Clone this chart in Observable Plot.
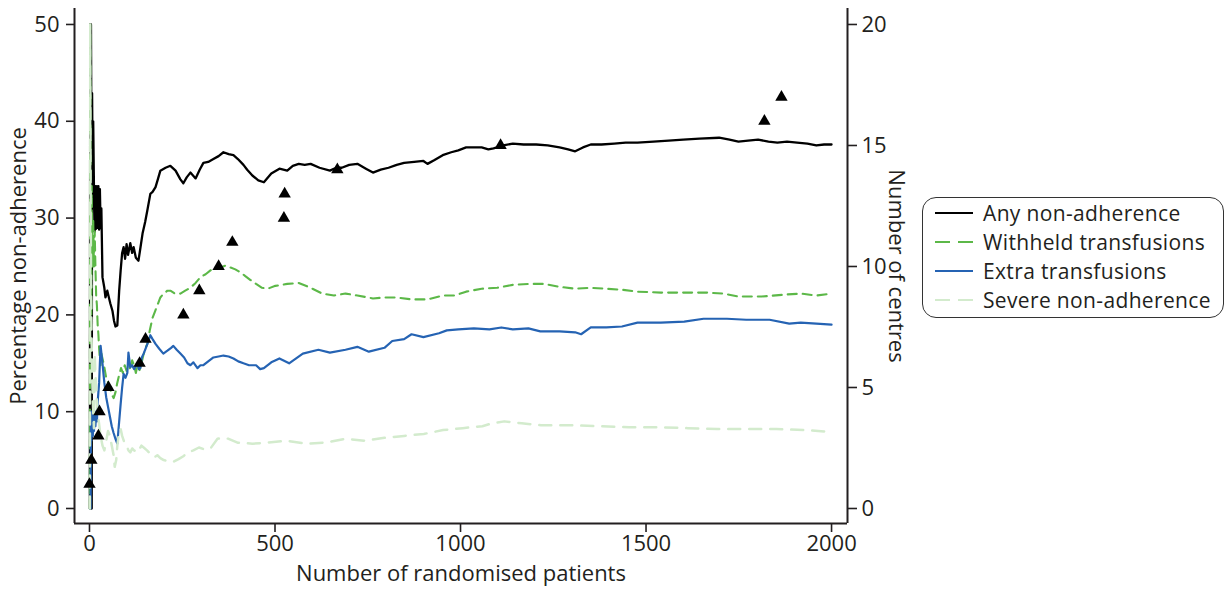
<!DOCTYPE html>
<html>
<head>
<meta charset="utf-8">
<script src="https://cdn.jsdelivr.net/npm/d3@7"></script>
<script src="https://cdn.jsdelivr.net/npm/@observablehq/plot@0.6"></script>
<style>
  html, body { margin: 0; padding: 0; background: #fff; }
  #wrap { position: relative; width: 1226px; height: 590px; font-family: "Open Sans", "Noto Sans", sans-serif; color: #231f20; }
  #legend { position: absolute; left: 922px; top: 197px; width: 302px; height: 121px; border: 1.6px solid #333; border-radius: 14px; box-sizing: border-box; }
  .row { position: absolute; left: 0; height: 22px; line-height: 22px; display: flex; align-items: center; font-size: 21px; letter-spacing: 0.35px; white-space: nowrap; }
  .row svg { margin-left: 12px; margin-right: 10px; flex: none; }
  .row span { display: block; height: 22px; line-height: 22px; overflow: visible; }
</style>
</head>
<body>
<div id="wrap"></div>
<script>
// ---- data ----
const xTicks = [0, 500, 1000, 1500, 2000];
const yTicks = [0, 10, 20, 30, 40, 50];
const centreTicks = [0, 5, 10, 15, 20];

const seriesNames = ["Any non-adherence", "Withheld transfusions", "Extra transfusions", "Severe non-adherence"];

const anyNonAdherence = [
  [1,0],[2,50],[3,33.3],[4,50],[5,40],[6,0],[7,42.9],[8,37.5],[9,33.3],[10,40],[12,33.3],[14,28.6],[16,33.3],[18,28.9],[20,33.3],
  [22,29],[24,33.3],[26,28.8],[28,33],[30,29],[32,31],[35,23.9],[40,22.8],[43,21.8],[48,22.5],[51,22],[56,21.2],[62,20.4],[66,19.4],
  [70,18.8],[75,18.9],[80,22.5],[84,24.6],[88,26.4],[92,27],[96,25.8],[100,27.3],[104,26.2],[110,27.4],[115,26.4],[119,27],
  [125,25.9],[132,25.6],[136,26.6],[143,28.4],[150,29.6],[156,30.8],[164,32.5],[170,32.7],[178,33.2],[185,34.1],[191,34.9],
  [205,35.2],[218,35.4],[232,34.9],[245,34],[253,33.6],[262,34.2],[272,34.7],[286,34.1],[297,35],[307,35.7],[320,35.8],
  [334,36.1],[348,36.4],[361,36.8],[375,36.6],[388,36.5],[400,36.1],[415,35.5],[425,35],[439,34.4],[455,33.9],[470,33.7],
  [490,34.6],[512,35.1],[533,34.9],[548,35.4],[564,35.6],[580,35.5],[596,35.6],[620,35.2],[648,34.9],[665,35.2],[680,35.2],
  [700,35.5],[722,35.6],[745,35.1],[764,34.7],[785,35],[806,35.2],[828,35.5],[848,35.7],[875,35.8],[900,35.9],[911,35.6],
  [930,36],[952,36.5],[975,36.8],[994,37],[1015,37.3],[1035,37.3],[1057,37.3],[1075,37.1],[1089,37.2],[1115,37.5],[1141,37.7],
  [1170,37.6],[1204,37.6],[1235,37.5],[1267,37.3],[1290,37.1],[1309,36.9],[1330,37.3],[1351,37.6],[1380,37.6],[1414,37.7],
  [1445,37.8],[1477,37.8],[1520,37.9],[1561,38],[1600,38.1],[1644,38.2],[1697,38.3],[1725,38.1],[1749,37.9],[1775,38],
  [1802,38.1],[1830,37.9],[1854,37.8],[1880,37.9],[1907,37.8],[1935,37.7],[1959,37.5],[1980,37.6],[2000,37.6]
];

const withheldTransfusions = [
  [1,0],[2,50],[3,33.3],[4,25],[5,20],[6,33.3],[7,28.6],[8,25],[10,30],[12,25],[14,28.6],[16,25],[18,22],[20,21],[22,19],
  [24,18],[26,16.5],[28,15.4],[30,14.8],[32,16],[35,15.5],[40,14.6],[45,13.5],[50,13],[55,12.5],[60,11.8],[65,11.4],[70,12],
  [75,13],[80,13.8],[85,14.5],[90,14],[95,14.8],[100,14.2],[105,15.2],[110,14.3],[115,15.3],[120,14.8],[125,14],[130,15],
  [135,14.3],[140,15],[145,15.8],[150,16.5],[156,17],[163,18.5],[170,19.7],[178,20.5],[185,21.2],[191,21.8],[200,22.2],
  [210,22.5],[218,22.5],[230,22.2],[245,22.2],[258,22.5],[272,22.8],[286,23.3],[299,23.9],[313,24.2],[326,24.6],[340,24.8],
  [353,24.9],[367,25.1],[380,24.9],[393,24.7],[407,24.4],[420,24],[434,23.6],[449,23.2],[465,22.8],[480,22.7],[501,23],
  [533,23.2],[564,23.3],[596,22.8],[627,22.2],[659,22],[690,22.2],[722,22],[764,21.7],[795,21.8],[826,21.8],[868,21.6],
  [911,21.6],[952,22],[984,22],[1015,22.4],[1057,22.7],[1099,22.8],[1141,23.1],[1183,23.2],[1225,23.2],[1267,22.9],
  [1309,22.7],[1351,22.8],[1393,22.7],[1435,22.6],[1477,22.4],[1540,22.3],[1603,22.3],[1666,22.3],[1708,22.2],[1749,21.9],
  [1812,21.9],[1875,22.1],[1917,22.2],[1959,22],[2000,22.2]
];

const extraTransfusions = [
  [1,0],[3,0],[4,10],[5,7],[6,10],[7,8],[8,10],[9,7.5],[10,9],[12,8],[14,10],[16,8.5],[18,10],[20,9],[22,11],[24,12],
  [26,13],[28,15],[30,16.8],[35,15],[40,13],[45,11.5],[50,10.5],[55,9.5],[60,8.5],[65,7.8],[70,7.2],[75,6.7],[80,9],
  [84,10.8],[88,12.5],[92,13.9],[97,13.5],[102,14],[105,16.1],[110,14.6],[115,14.8],[120,14.4],[125,14.7],[129,15],
  [133,14.4],[137,14.5],[141,15.6],[146,16],[152,16.6],[159,17.3],[164,17.9],[170,17.5],[178,17],[188,16.5],[199,16],
  [210,16.3],[220,16.6],[226,16.8],[235,16.4],[245,16],[255,15.6],[264,15],[272,14.8],[280,15.1],[291,14.5],[299,14.8],
  [307,14.8],[320,15.2],[334,15.6],[348,15.7],[361,15.8],[375,15.7],[388,15.5],[401,15.2],[415,15],[430,14.8],[449,14.8],
  [460,14.4],[470,14.5],[490,15.1],[512,15.5],[538,15],[575,16],[617,16.4],[648,16.1],[690,16.4],[722,16.7],[753,16.2],
  [795,16.6],[816,17.3],[848,17.5],[868,18],[900,17.7],[942,18.1],[963,18.4],[994,18.5],[1036,18.6],[1078,18.5],[1110,18.7],
  [1141,18.5],[1183,18.6],[1215,18.3],[1267,18.3],[1309,18.2],[1325,18],[1351,18.7],[1393,18.7],[1435,18.8],[1477,19.2],
  [1540,19.2],[1603,19.3],[1655,19.6],[1718,19.6],[1770,19.5],[1833,19.5],[1886,19.1],[1917,19.2],[1959,19.1],[2000,19]
];

const severeNonAdherence = [
  [1,0],[2,50],[3,33.3],[4,25],[5,20],[6,16.7],[7,14.3],[8,12.5],[9,11.1],[10,10],[12,8.3],[14,16],[16,14],[18,12.5],
  [20,11],[22,10],[25,9],[30,7.5],[35,6.5],[40,6],[45,7],[50,8],[55,7.5],[60,6.5],[65,5.5],[68,4.3],[72,5],[75,6.5],
  [80,8],[84,8.2],[88,7.5],[95,6.7],[100,6.5],[105,6],[110,5.8],[115,6.2],[120,6],[130,5.8],[140,6.5],[146,6.3],[155,6],
  [165,5.6],[175,5.3],[183,5.5],[191,5.2],[200,5],[212,4.9],[225,4.8],[240,5.1],[253,5.4],[265,5.8],[280,6],[295,6.3],
  [310,6.1],[326,6.2],[345,7.2],[360,7.3],[375,7.2],[399,6.8],[439,6.7],[478,6.8],[531,7],[583,6.7],[636,6.8],[689,7.2],
  [742,7],[795,7.3],[848,7.5],[901,7.7],[953,8.1],[1006,8.3],[1059,8.5],[1085,8.8],[1118,9],[1165,8.8],[1217,8.6],
  [1297,8.6],[1376,8.5],[1455,8.4],[1534,8.4],[1613,8.3],[1692,8.2],[1772,8.2],[1851,8.2],[1930,8.1],[2000,7.9]
];

// number of centres open, by number of randomised patients
const centrePatients = [0, 5, 24, 27, 51, 135, 151, 253, 296, 348, 385, 524, 526, 668, 1108, 1819, 1865];
const centreCounts  = [1, 2, 3, 4, 5, 6, 7, 8, 9, 10, 11, 12, 13, 14, 15, 16, 17];

// ---- styles ----
const colors = ["#000000", "#5cb848", "#2563b3", "#d3ebcd"];
const dashes = [null, "9,6", null, "12,9"];
const widths = [2.3, 2.1, 2.2, 2.5];

const xDomain = [-40.4, 2043];
const yDomain = [-1.55, 51.65];
const centreToPct = 50 / 20;

const seriesData = [anyNonAdherence, withheldTransfusions, extraTransfusions, severeNonAdherence];
const rows = [];
seriesData.forEach((arr, i) => arr.forEach(([x, y]) => rows.push({series: seriesNames[i], x, y})));
const centres = centrePatients.map((p, i) => ({x: p, c: centreCounts[i]}));

const axisColor = "#231f20";
const FS = 22;

const lineMarks = seriesNames.map((name, i) =>
  Plot.line(rows.filter(d => d.series === name), {
    x: "x", y: "y", stroke: colors[i], strokeWidth: widths[i],
    strokeDasharray: dashes[i] || undefined, strokeLinejoin: "round"
  })
);

const chart = Plot.plot({
  width: 1226,
  height: 590,
  marginLeft: 74,
  marginRight: 379,
  marginTop: 8,
  marginBottom: 67,
  style: {fontFamily: '"Open Sans", "Noto Sans", sans-serif', fontSize: FS + "px", color: axisColor, background: "white"},
  x: {domain: xDomain},
  y: {domain: yDomain},
  marks: [
    Plot.axisX({ticks: xTicks, tickSize: 9, tickPadding: 3, tickFormat: d => String(d), label: null, fontSize: FS, strokeWidth: 1.6}),
    Plot.axisY({ticks: yTicks, anchor: "left", tickSize: 8, tickPadding: 7, tickFormat: d => String(d), label: null, fontSize: FS, strokeWidth: 1.6}),
    Plot.axisY({ticks: centreTicks.map(d => d * centreToPct), anchor: "right", tickSize: 9, tickPadding: 5,
      tickFormat: d => String(Math.round(d / centreToPct)), label: null, fontSize: FS, strokeWidth: 1.6}),
    Plot.ruleX([xDomain[0], xDomain[1]], {stroke: axisColor, strokeWidth: 2}),
    Plot.ruleY([yDomain[0]], {stroke: axisColor, strokeWidth: 2}),
    ...lineMarks,
    Plot.dot(centres, {x: "x", y: d => d.c * centreToPct, symbol: "triangle", r: 4.6, fill: "black", stroke: "none"}),
    Plot.text(["Number of randomised patients"], {text: d => d, frameAnchor: "bottom", textAnchor: "middle", dy: 57, fontSize: FS, fill: axisColor}),
    Plot.text(["Percentage non-adherence"], {text: d => d, frameAnchor: "left", textAnchor: "middle", dx: -56, rotate: -90, fontSize: FS, fill: axisColor}),
    Plot.text(["Number of centres"], {text: d => d, frameAnchor: "right", textAnchor: "middle", dx: 49, rotate: 90, fontSize: FS, fill: axisColor})
  ]
});

const wrap = document.getElementById("wrap");
wrap.appendChild(chart);

// legend
const legend = document.createElement("div");
legend.id = "legend";
const rowTops = [4, 33, 62, 91];
seriesNames.forEach((name, i) => {
  const r = document.createElement("div");
  r.className = "row";
  r.style.top = rowTops[i] + "px";
  const svg = d3.create("svg").attr("width", 38).attr("height", 10);
  svg.append("line").attr("x1", 0).attr("x2", 38).attr("y1", 5).attr("y2", 5)
    .attr("stroke", colors[i]).attr("stroke-width", 2)
    .attr("stroke-dasharray", dashes[i] ? "15,8" : null);
  r.appendChild(svg.node());
  const span = document.createElement("span");
  span.textContent = name;
  r.appendChild(span);
  legend.appendChild(r);
});
wrap.appendChild(legend);
</script>
</body>
</html>
